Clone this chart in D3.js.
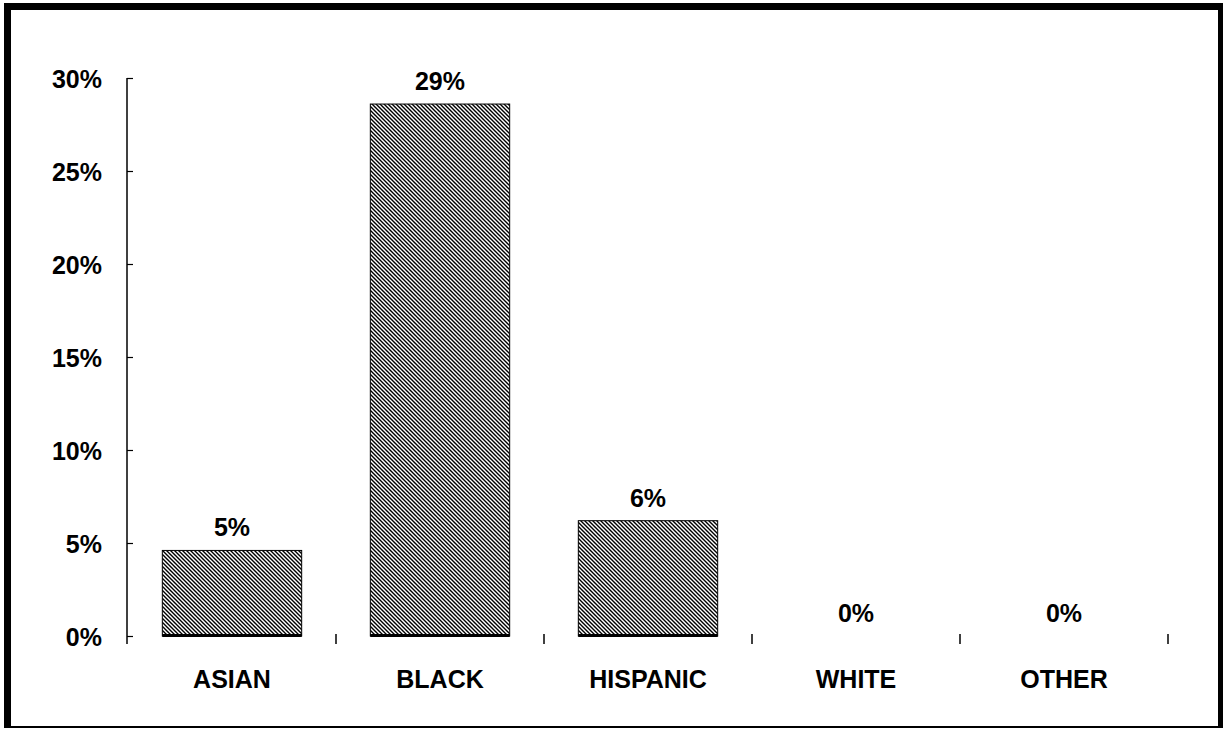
<!DOCTYPE html>
<html>
<head>
<meta charset="utf-8">
<script src="https://cdn.jsdelivr.net/npm/d3@7"></script>
<style>
  html, body { margin: 0; padding: 0; background: #fff; }
  svg { display: block; }
  text { font-family: "Liberation Sans", Arial, Helvetica, sans-serif; font-weight: bold; fill: #000; }
</style>
</head>
<body>
<script>
// Share of group by race/ethnicity
const categories = ["ASIAN", "BLACK", "HISPANIC", "WHITE", "OTHER"];
const values = [4.6, 28.6, 6.2, 0, 0];
const yTicks = [0, 5, 10, 15, 20, 25, 30];

const W = 1225, H = 730;
const svg = d3.select("body").append("svg").attr("width", W).attr("height", H);

// Hatch fill: fine "\" diagonal stripes
const defs = svg.append("defs");
const pat = defs.append("pattern")
  .attr("id", "hatch")
  .attr("patternUnits", "userSpaceOnUse")
  .attr("width", 4).attr("height", 4);
pat.append("rect").attr("width", 4).attr("height", 4).attr("fill", "#fff");
pat.append("path")
  .attr("d", "M-1,-1 L5,5 M-1,3 L1,5 M3,-1 L5,1")
  .attr("stroke", "#000").attr("stroke-width", 1.4);

// Frame
const frame = svg.append("g");
frame.append("rect").attr("x", 4).attr("y", 3).attr("width", 1219).attr("height", 7);
frame.append("rect").attr("x", 4).attr("y", 3).attr("width", 7).attr("height", 725);
frame.append("rect").attr("x", 1218).attr("y", 3).attr("width", 5).attr("height", 725);
frame.append("rect").attr("x", 4).attr("y", 726).attr("width", 1219).attr("height", 2);

// Scales
const y = d3.scaleLinear().domain([0, 30]).range([636, 78]);
const xBand = d3.scaleBand().domain(categories).range([128, 1168]).padding(0);
const xBar = d3.scaleBand().domain(categories).range([128, 1168])
  .paddingInner(0.33).paddingOuter(0.165);

const axisX0 = 127;

// Y axis
const yAxis = svg.append("g")
  .attr("transform", `translate(${axisX0},0)`)
  .call(d3.axisLeft(y)
    .tickValues(yTicks)
    .tickFormat(d => d + "%")
    .tickSize(6)
    .tickSizeOuter(0)
    .tickPadding(19));
yAxis.select(".domain").remove();
yAxis.selectAll(".tick line").attr("x2", 6).attr("stroke", "#000").attr("stroke-width", 1.2);
yAxis.selectAll(".tick text").style("font-size", "25px").attr("dy", "0.36em");
yAxis.append("line")
  .attr("x1", 0).attr("x2", 0)
  .attr("y1", y(30)).attr("y2", y(0) + 8)
  .attr("stroke", "#000").attr("stroke-width", 1.5);

// Category boundary ticks
svg.append("g").selectAll("line")
  .data(categories)
  .join("line")
  .attr("x1", d => xBand(d) + xBand.bandwidth())
  .attr("x2", d => xBand(d) + xBand.bandwidth())
  .attr("y1", y(0) - 2).attr("y2", y(0) + 8)
  .attr("stroke", "#000").attr("stroke-width", 1.5);

// Category labels
const xAxis = svg.append("g")
  .attr("transform", `translate(0,${y(0)})`)
  .call(d3.axisBottom(xBand).tickSize(0).tickPadding(34));
xAxis.select(".domain").remove();
xAxis.selectAll(".tick text").style("font-size", "25px");

// Bars
const bars = svg.append("g");
const data = categories.map((c, i) => ({ c, v: values[i] }));
bars.selectAll("rect")
  .data(data.filter(d => d.v > 0))
  .join("rect")
  .attr("x", d => xBar(d.c))
  .attr("y", d => y(d.v))
  .attr("width", xBar.bandwidth())
  .attr("height", d => y(0) - y(d.v))
  .attr("fill", "url(#hatch)")
  .attr("stroke", "#000").attr("stroke-width", 1);
bars.selectAll("line")
  .data(data.filter(d => d.v > 0))
  .join("line")
  .attr("x1", d => xBar(d.c)).attr("x2", d => xBar(d.c) + xBar.bandwidth())
  .attr("y1", y(0) - 0.5).attr("y2", y(0) - 0.5)
  .attr("stroke", "#000").attr("stroke-width", 3);

// Value labels
svg.append("g").selectAll("text")
  .data(data)
  .join("text")
  .attr("x", d => xBar(d.c) + xBar.bandwidth() / 2)
  .attr("y", d => y(d.v) - 14)
  .attr("text-anchor", "middle")
  .style("font-size", "25px")
  .text(d => Math.round(d.v) + "%");
</script>
</body>
</html>
